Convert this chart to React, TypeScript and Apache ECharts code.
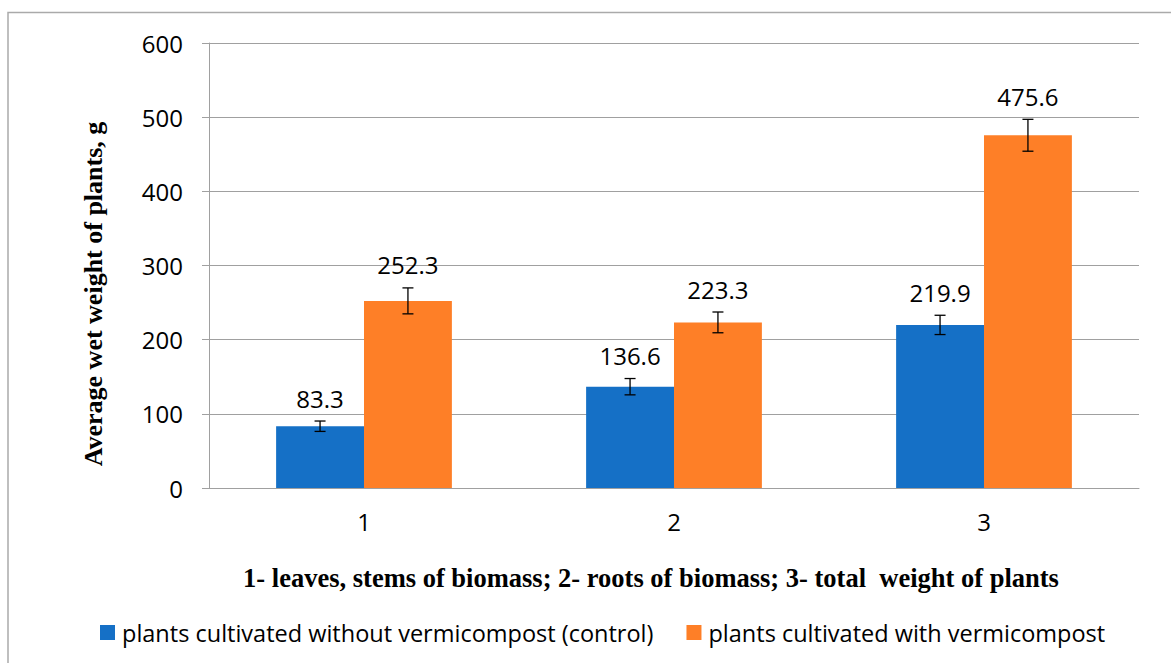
import React, { useEffect, useRef } from "react";
import * as echarts from "echarts";

const categories = ["1", "2", "3"];
const seriesNames = [
  "plants cultivated without vermicompost (control)",
  "plants cultivated with vermicompost",
];
const controlValues = [83.3, 136.6, 219.9];
const vermiValues = [252.3, 223.3, 475.6];
const controlErrors = [7, 11, 13];
const vermiErrors = [17.5, 14, 21.5];
const yTicks = { min: 0, max: 600, interval: 100 };
const yTitle = "Average wet weight of plants, g";
const xTitle = "1- leaves, stems of biomass; 2- roots of biomass; 3- total  weight of plants";

const BLUE = "#1570c6";
const ORANGE = "#fe7f27";
const CAT_GAP = 0.433;
const NUM_FONT = "Open Sans";
const NUM_SIZE = 24;

export default function App() {
  const ref = useRef<HTMLDivElement>(null);
  useEffect(() => {
    if (!ref.current) return;
    const chart = echarts.init(ref.current, undefined, { renderer: "svg" });
    const errData: number[][] = [];
    controlValues.forEach((v, i) => errData.push([i, v, controlErrors[i], 0]));
    vermiValues.forEach((v, i) => errData.push([i, v, vermiErrors[i], 1]));

    chart.setOption({
      animation: false,
      grid: { left: 209, right: 32, top: 43, bottom: 175 },
      legend: {
        left: 95,
        top: 615,
        itemWidth: 15,
        itemHeight: 15,
        itemGap: 33,
        itemStyle: { borderWidth: 0 },
        icon: "rect",
        textStyle: {
          fontFamily: NUM_FONT,
          fontSize: 23.5,
          lineHeight: 25,
          color: "#000",
          padding: [0, 0, 0, 2],
        },
        data: seriesNames,
      },
      graphic: [
        {
          type: "rect",
          shape: { x: 8, y: 12.5, width: 1300, height: 800 },
          style: { fill: "none", stroke: "#aaaaaa", lineWidth: 1.5 },
          silent: true,
        },
        {
          type: "text",
          x: 651,
          y: 578,
          style: {
            text: xTitle,
            fontFamily: "Liberation Serif",
            fontWeight: "bold",
            fontSize: 26.5,
            fill: "#000",
            align: "center",
            verticalAlign: "middle",
          },
        },
        {
          type: "text",
          x: 93,
          y: 294,
          rotation: Math.PI / 2,
          style: {
            text: yTitle,
            fontFamily: "Liberation Serif",
            fontWeight: "bold",
            fontSize: 26,
            fill: "#000",
            align: "center",
            verticalAlign: "middle",
          },
        },
      ],
      xAxis: {
        type: "category",
        data: categories,
        axisLine: { lineStyle: { color: "#a0a0a0", width: 1 } },
        axisTick: { show: false },
        axisLabel: { fontFamily: NUM_FONT, fontSize: NUM_SIZE, color: "#000", margin: 21 },
      },
      yAxis: {
        type: "value",
        min: yTicks.min,
        max: yTicks.max,
        interval: yTicks.interval,
        axisLine: { show: true, lineStyle: { color: "#a0a0a0", width: 1 } },
        axisTick: { show: true, length: 7, lineStyle: { color: "#a0a0a0" } },
        axisLabel: { fontFamily: NUM_FONT, fontSize: NUM_SIZE, color: "#000", margin: 26 },
        splitLine: { lineStyle: { color: "#a0a0a0", width: 1 } },
      },
      series: [
        {
          name: seriesNames[0],
          type: "bar",
          data: controlValues,
          barGap: "0%",
          barCategoryGap: CAT_GAP * 100 + "%",
          itemStyle: { color: BLUE },
        },
        {
          name: seriesNames[1],
          type: "bar",
          data: vermiValues,
          barGap: "0%",
          barCategoryGap: CAT_GAP * 100 + "%",
          itemStyle: { color: ORANGE },
        },
        {
          type: "custom",
          data: errData,
          z: 10,
          renderItem: (params: any, api: any) => {
            const cat = api.value(0);
            const val = api.value(1);
            const err = api.value(2);
            const s = api.value(3);
            const band = api.size([1, 0])[0];
            const barW = (band * (1 - CAT_GAP)) / 2;
            const c = api.coord([cat, val]);
            const x = c[0] + (s === 0 ? -barW / 2 : barW / 2);
            const yTop = api.coord([cat, val + err])[1];
            const yBot = api.coord([cat, val - err])[1];
            const cap = 5.5;
            const ls = { stroke: "#000", lineWidth: 1.3 };
            return {
              type: "group",
              children: [
                { type: "line", shape: { x1: x, y1: yTop, x2: x, y2: yBot }, style: ls },
                { type: "line", shape: { x1: x - cap, y1: yTop, x2: x + cap, y2: yTop }, style: ls },
                { type: "line", shape: { x1: x - cap, y1: yBot, x2: x + cap, y2: yBot }, style: ls },
                {
                  type: "text",
                  style: {
                    text: String(val),
                    x: x,
                    y: yTop - 23,
                    align: "center",
                    verticalAlign: "middle",
                    fontFamily: NUM_FONT,
                    fontSize: NUM_SIZE,
                    fill: "#000",
                  },
                },
              ],
            };
          },
        },
      ],
    });
    return () => chart.dispose();
  }, []);
  return (
    <div
      ref={ref}
      style={{ position: "fixed", left: 0, top: 0, width: 1171, height: 663, background: "#fff" }}
    />
  );
}
